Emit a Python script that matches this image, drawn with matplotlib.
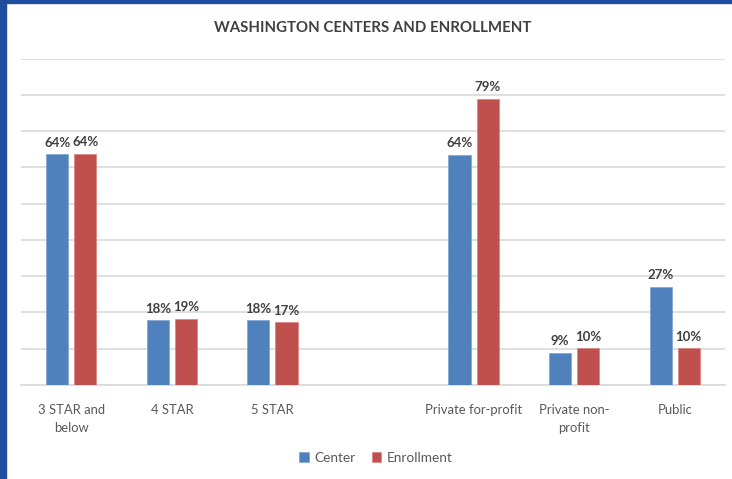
import matplotlib.pyplot as plt
import matplotlib.patches as mpatches
import numpy as np

categories = ["3 STAR and\nbelow", "4 STAR", "5 STAR", "", "Private for-profit", "Private non-\nprofit", "Public"]
center = [63.6, 17.9, 17.9, np.nan, 63.4, 8.9, 27.1]
enrollment = [63.8, 18.3, 17.3, np.nan, 78.9, 10.1, 10.1]
center_labels = ["64%", "18%", "18%", "", "64%", "9%", "27%"]
enroll_labels = ["64%", "19%", "17%", "", "79%", "10%", "10%"]

plt.rcParams['font.family'] = ['Lato', 'DejaVu Sans']

fig = plt.figure(figsize=(7.32, 4.79), dpi=100)
ax = fig.add_axes([21 / 732, (479 - 385) / 479, (725 - 21) / 732, (385 - 58.5) / 479])

x = np.arange(len(categories))
w = 0.22
b1 = ax.bar(x - 0.14, center, w, color="#4F81BD", edgecolor="#7FA3D1", linewidth=0.5, label="Center", zorder=3)
b2 = ax.bar(x + 0.14, enrollment, w, color="#C0504D", edgecolor="#D98381", linewidth=0.5, label="Enrollment", zorder=3)

for bars, labels in [(b1, center_labels), (b2, enroll_labels)]:
    for bar, lab in zip(bars, labels):
        if not lab:
            continue
        ax.annotate(lab, (bar.get_x() + bar.get_width() / 2, bar.get_height()),
                    xytext=(0, 4), textcoords="offset points", ha="center", va="bottom",
                    fontsize=9.5, fontweight="bold", color="#404040")

ax.set_xlim(-0.5, 6.5)
ax.set_ylim(0, 90)
ax.set_yticks(np.arange(0, 91, 10))
ax.set_yticklabels([])
ax.grid(axis="y", color="#D9D9D9", linewidth=1.2, zorder=0)
ax.set_xticks(x)
ax.set_xticklabels(categories, fontsize=9.4, color="#595959", linespacing=1.6)
ax.tick_params(length=0, pad=14)
for s in ["top", "right", "left"]:
    ax.spines[s].set_visible(False)
ax.spines["bottom"].set_color("#D9D9D9")
ax.spines["bottom"].set_linewidth(1.2)

fig.text(373 / 732, 1 - 28 / 479, "WASHINGTON CENTERS AND ENROLLMENT", ha="center", va="center",
         fontsize=10.8, fontweight="bold", color="#404040")

fig.legend(handles=[b1, b2], loc="center", bbox_to_anchor=(376 / 732, 1 - 458 / 479), ncol=2,
           frameon=False, fontsize=9.8, handlelength=0.7, handleheight=0.7, handletextpad=0.4,
           columnspacing=1.2, labelcolor="#595959")

# blue frame on left and top edges
fig.patches.append(mpatches.Rectangle((0, 0), 6 / 732, 1, transform=fig.transFigure, color="#1F4E9F", zorder=10))
fig.patches.append(mpatches.Rectangle((0, 1 - 3 / 479), 1, 3 / 479, transform=fig.transFigure, color="#1F4E9F", zorder=10))

fig.savefig("out.png", dpi=100)
